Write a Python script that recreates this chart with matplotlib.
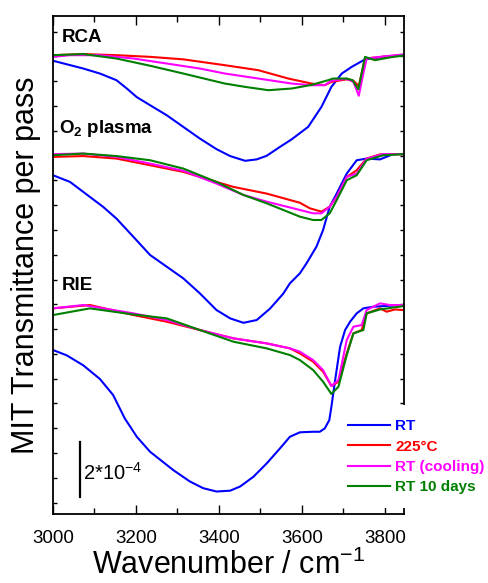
import matplotlib
matplotlib.use("Agg")
import matplotlib.pyplot as plt
from matplotlib.patches import Rectangle
import numpy as np

plt.rcParams['font.family'] = ['Liberation Sans', 'DejaVu Sans']
plt.rcParams['mathtext.fontset'] = 'custom'
plt.rcParams['mathtext.rm'] = 'Liberation Sans'
plt.rcParams['mathtext.bf'] = 'Liberation Sans:bold'
plt.rcParams['mathtext.it'] = 'Liberation Sans:italic'

# ---- data (transmittance change, units of 1e-4, relative to each baseline) ----
SERIES = ["RT", "225°C", "RT (cooling)", "RT 10 days"]
COLORS = ["#0000ff", "#ff0000", "#ff00ff", "#008000"]
SAMPLES = ["RCA", r"O$_\mathbf{2}$ plasma", "RIE"]
OFFSETS = [16.54, 12.96, 7.53]

RCA_RT_WN = [3000, 3073, 3113, 3153, 3178, 3202, 3234, 3274, 3314, 3354, 3394, 3427, 3463, 3491, 3515, 3547, 3575, 3615, 3647, 3671, 3696, 3720, 3752, 3764, 3796, 3846]
RCA_RT = [-0.22, -0.50, -0.68, -0.92, -1.22, -1.53, -1.82, -2.18, -2.60, -3.02, -3.40, -3.65, -3.82, -3.77, -3.64, -3.32, -3.05, -2.60, -1.88, -1.16, -0.68, -0.44, -0.17, -0.15, -0.08, -0.02]
RCA_225_WN = [3000, 3073, 3153, 3234, 3314, 3414, 3495, 3567, 3623, 3655, 3671, 3708, 3724, 3737, 3752, 3780, 3812, 3846]
RCA_225 = [-0.02, 0.02, -0.02, -0.08, -0.17, -0.38, -0.56, -0.86, -1.04, -1.10, -0.98, -0.89, -0.94, -1.13, -0.14, -0.10, -0.05, -0.02]
RCA_COOL_WN = [3000, 3041, 3113, 3194, 3274, 3354, 3414, 3495, 3575, 3623, 3655, 3671, 3708, 3724, 3737, 3748, 3756, 3788, 3846]
RCA_COOL = [-0.08, -0.02, -0.02, -0.14, -0.32, -0.50, -0.68, -0.86, -1.04, -1.10, -1.10, -0.94, -0.87, -0.98, -1.48, -0.68, -0.14, -0.08, 0.01]
RCA_10D_WN = [3000, 3073, 3153, 3234, 3314, 3414, 3463, 3519, 3575, 3623, 3663, 3675, 3708, 3722, 3736, 3752, 3776, 3812, 3846]
RCA_10D = [-0.02, 0.02, -0.14, -0.40, -0.68, -1.04, -1.16, -1.28, -1.22, -1.09, -0.92, -0.86, -0.86, -0.92, -1.25, -0.08, -0.20, -0.10, -0.03]

O2_RT_WN = [3000, 3041, 3089, 3121, 3153, 3194, 3234, 3274, 3314, 3354, 3394, 3427, 3459, 3491, 3523, 3555, 3571, 3595, 3611, 3635, 3651, 3667, 3684, 3708, 3732, 3756, 3788, 3820, 3846]
O2_RT = [-0.76, -1.00, -1.54, -1.90, -2.32, -2.98, -3.63, -4.05, -4.47, -5.01, -5.61, -5.91, -6.07, -5.97, -5.56, -5.02, -4.65, -4.29, -3.93, -3.33, -2.73, -1.89, -1.41, -0.70, -0.22, -0.16, -0.19, 0.00, 0.00]
O2_225_WN = [3000, 3073, 3153, 3234, 3314, 3394, 3435, 3515, 3595, 3619, 3647, 3667, 3684, 3708, 3732, 3756, 3788, 3846]
O2_225 = [-0.10, -0.07, -0.16, -0.40, -0.64, -1.00, -1.18, -1.42, -1.75, -1.95, -2.07, -1.89, -1.53, -0.82, -0.58, -0.16, -0.01, 0.00]
O2_COOL_WN = [3000, 3073, 3153, 3234, 3314, 3394, 3459, 3515, 3595, 3627, 3647, 3667, 3684, 3708, 3732, 3756, 3796, 3846]
O2_COOL = [0.00, 0.02, -0.10, -0.34, -0.60, -1.06, -1.47, -1.71, -2.01, -2.13, -2.13, -1.89, -1.53, -0.82, -0.70, -0.16, 0.00, 0.00]
O2_10D_WN = [3000, 3073, 3153, 3234, 3314, 3394, 3459, 3515, 3595, 3627, 3647, 3667, 3684, 3708, 3732, 3756, 3796, 3846]
O2_10D = [-0.04, 0.02, -0.07, -0.22, -0.52, -1.00, -1.47, -1.77, -2.25, -2.37, -2.37, -2.13, -1.65, -0.94, -0.76, -0.22, -0.04, 0.00]

RIE_RT_WN = [3000, 3033, 3073, 3113, 3145, 3173, 3202, 3234, 3290, 3330, 3362, 3394, 3427, 3451, 3483, 3515, 3547, 3571, 3595, 3627, 3643, 3655, 3666, 3671, 3680, 3692, 3704, 3716, 3732, 3748, 3772, 3844]
RIE_RT = [-1.62, -1.81, -2.17, -2.66, -3.24, -4.08, -4.74, -5.28, -5.94, -6.35, -6.59, -6.71, -6.68, -6.53, -6.18, -5.70, -5.16, -4.74, -4.58, -4.56, -4.56, -4.44, -4.14, -3.66, -2.70, -1.50, -0.90, -0.60, -0.30, -0.12, -0.06, 0.00]
RIE_225_WN = [3000, 3089, 3194, 3274, 3354, 3435, 3515, 3571, 3595, 3627, 3651, 3671, 3688, 3708, 3724, 3744, 3756, 3788, 3804, 3824, 3844]
RIE_225 = [-0.12, 0.00, -0.36, -0.60, -0.90, -1.20, -1.38, -1.56, -1.74, -2.04, -2.40, -2.91, -2.76, -1.74, -1.02, -0.90, -0.30, -0.12, -0.24, -0.16, -0.18]
RIE_COOL_WN = [3000, 3073, 3194, 3274, 3354, 3435, 3515, 3571, 3595, 3627, 3651, 3671, 3688, 3708, 3724, 3744, 3756, 3788, 3812, 3844]
RIE_COOL = [-0.12, 0.00, -0.30, -0.54, -0.90, -1.20, -1.38, -1.56, -1.68, -1.98, -2.34, -2.91, -2.70, -1.26, -0.78, -0.72, -0.18, 0.06, 0.00, 0.00]
RIE_10D_WN = [3000, 3089, 3194, 3274, 3354, 3435, 3515, 3571, 3595, 3627, 3651, 3671, 3688, 3708, 3724, 3748, 3756, 3788, 3844]
RIE_10D = [-0.36, -0.12, -0.34, -0.48, -0.90, -1.32, -1.56, -1.80, -1.98, -2.34, -2.76, -3.20, -2.94, -1.80, -1.02, -0.90, -0.30, -0.16, -0.04]

CURVES = [
    [(RCA_RT_WN, RCA_RT), (RCA_225_WN, RCA_225), (RCA_COOL_WN, RCA_COOL), (RCA_10D_WN, RCA_10D)],
    [(O2_RT_WN, O2_RT), (O2_225_WN, O2_225), (O2_COOL_WN, O2_COOL), (O2_10D_WN, O2_10D)],
    [(RIE_RT_WN, RIE_RT), (RIE_225_WN, RIE_225), (RIE_COOL_WN, RIE_COOL), (RIE_10D_WN, RIE_10D)],
]
SCALE_BAR = 2.0  # 2*10^-4
XTICKS = [3000, 3200, 3400, 3600, 3800]

# ---- figure ----
fig = plt.figure(figsize=(4.88, 5.83), dpi=100)
ax = fig.add_axes([53/488, 1-514.3/583, 351/488, 498.3/583])

for si, sample in enumerate(CURVES):
    for ci, (wn, v) in enumerate(sample):
        ax.plot(wn, np.array(v) + OFFSETS[si], color=COLORS[ci], lw=1.5,
                label=SERIES[ci] if si == 0 else None, solid_joinstyle='round')

ax.set_xlim(3000, 3846)
ax.set_ylim(0, 17.93)
ax.set_xticks(XTICKS)
ax.set_xticks(np.arange(3100, 3846, 200), minor=True)
ax.set_yticks(0.42 + 0.892*np.arange(20))
ax.set_yticklabels([])
ax.tick_params(axis='x', which='major', direction='in', length=6.5, width=1.0,
               top=True, bottom=True, labelsize=13.5, pad=11)
ax.tick_params(axis='x', which='minor', direction='in', length=4.3, width=1.0,
               top=True, bottom=True)
ax.tick_params(axis='y', which='major', direction='in', length=2.6, width=1.0,
               left=True, right=True)
for s in ax.spines.values():
    s.set_linewidth(1.3)

ax.set_xlabel(r"Wavenumber / cm$^{-1}$", fontsize=22, labelpad=2)
ax.set_ylabel("MIT Transmittance per pass", fontsize=22, labelpad=5)

# sample labels
ax.text(0.025, 0.9484, SAMPLES[0], transform=ax.transAxes, fontsize=13.5,
        fontweight='bold', va='baseline', ha='left')
ax.text(0.018, 0.7646, SAMPLES[1], transform=ax.transAxes, fontsize=13.5,
        fontweight='bold', va='baseline', ha='left')
ax.text(0.025, 0.4501, SAMPLES[2], transform=ax.transAxes, fontsize=13.5,
        fontweight='bold', va='baseline', ha='left')

# scale bar
ax.plot([3065, 3065], [0.61, 0.61 + SCALE_BAR], color='black', lw=1.6)
ax.text(3073, 1.235, r"2*10$^{-4}$", fontsize=14.5, va='baseline', ha='left')

# white block behind the legend (hides the right spine there)
ax.add_patch(Rectangle((340/488, 1-508/583), 148/488, 103/583,
                       transform=fig.transFigure, facecolor='white',
                       edgecolor='none', zorder=4, clip_on=False))

leg = ax.legend(loc='upper left', bbox_to_anchor=(348/488, 1-419.5/583),
                bbox_transform=fig.transFigure, borderaxespad=0, frameon=False,
                prop={'weight': 'bold', 'size': 11}, handlelength=2.75,
                handletextpad=0.35, labelspacing=0.41, borderpad=0)
leg.set_zorder(5)
for t, c in zip(leg.get_texts(), COLORS):
    t.set_color(c)

fig.savefig("out.png", dpi=100)
